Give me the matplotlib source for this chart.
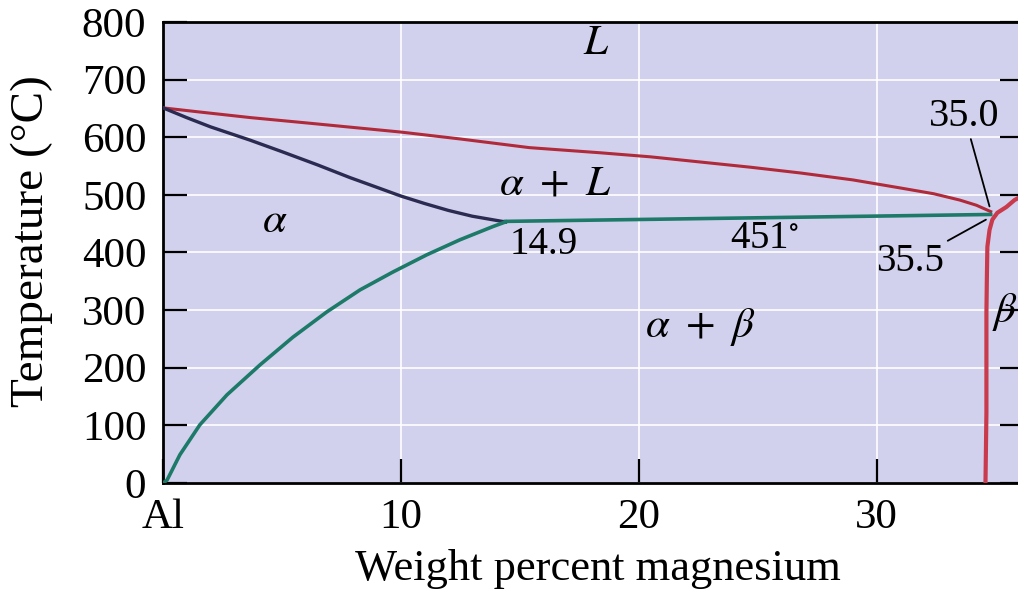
import matplotlib
matplotlib.use('Agg')
from matplotlib import pyplot as plt

plt.rcParams['font.family'] = ['Liberation Serif', 'DejaVu Serif']
plt.rcParams['mathtext.fontset'] = 'stix'

# phase boundaries (wt% Mg, deg C)
liq_x = [0, 1.5, 3.7, 6.0, 8.0, 10.0, 12.5, 15.4, 18.4, 20.5, 22.6, 24.7,
         26.8, 29.0, 31.0, 32.4, 33.5, 34.2, 34.8]
liq_t = [651, 644, 634, 625, 617, 609, 597, 582, 573, 566, 557, 548,
         538, 526, 512, 502, 491, 482, 471]

sol_x = [0, 1.0, 2.0, 3.66, 5.0, 6.5, 7.86, 9.0, 10.0, 11.0, 12.0, 13.0,
         14.4]
sol_t = [651, 634, 618, 595, 575, 552, 530, 513, 498, 485, 473, 463, 453]

solv_x = [0, 0.17, 0.71, 1.55, 2.69, 4.08, 5.46, 6.89, 8.28, 9.66, 11.09,
          12.48, 13.87, 14.4]
solv_t = [0, 5, 49, 101, 153, 205, 253, 297, 335, 366, 396, 422, 445, 453]

eut_x = [14.4, 34.8]
eut_t = [454, 466]

beta_x = [34.58, 34.60, 34.62, 34.62, 34.64, 34.66, 34.75, 34.87, 35.08,
          35.46, 35.8, 36.2]
beta_t = [0, 60, 122, 295, 360, 410, 439, 457, 469, 479, 491, 500]

xticks = [0, 10, 20, 30]
xtick_labels = ['Al', '10', '20', '30']
yticks = [0, 100, 200, 300, 400, 500, 600, 700, 800]

fig = plt.figure(figsize=(10.18, 6.0), dpi=100)
ax = fig.add_axes([163 / 1018, 117 / 600, (1024 - 163) / 1018, 461 / 600])
ax.set_facecolor('#d1d1ed')

ax.plot(liq_x, liq_t, color='#b02a3a', lw=2.2, zorder=3)
ax.plot(sol_x, sol_t, color='#2b2b52', lw=2.4, zorder=3)
ax.plot(solv_x, solv_t, color='#1d7a68', lw=2.6, zorder=3)
ax.plot(eut_x, eut_t, color='#1d7a68', lw=2.6, zorder=3)
ax.plot(beta_x, beta_t, color='#c83a4c', lw=3.0, zorder=4,
        solid_capstyle='round')

ax.set_xlim(0, 36.2)
ax.set_ylim(0, 800)
ax.set_xticks(xticks)
ax.set_xticklabels(xtick_labels)
ax.set_yticks(yticks)
ax.grid(True, color='white', lw=1.3, alpha=0.9)
ax.set_axisbelow(True)

ax.tick_params(direction='in', length=17, width=1.6, labelsize=31, pad=12,
               right=True, top=False)
ax.tick_params(axis='x', pad=11)
for s in ax.spines.values():
    s.set_linewidth(2)

fs = 31
ax.text(18.2, 762, r'$L$', fontsize=fs, ha='center', va='center')
ax.text(16.5, 518, r'$\alpha\ +\ L$', fontsize=fs, ha='center', va='center')
ax.text(4.7, 454, r'$\alpha$', fontsize=fs, ha='center', va='center')
ax.text(22.6, 270, r'$\alpha\ +\ \beta$', fontsize=fs, ha='center',
        va='center')
ax.text(35.4, 297, r'$\beta$', fontsize=fs, ha='center', va='center')
ax.text(16.0, 414, '14.9', fontsize=28, ha='center', va='center')
ax.text(25.3, 425, '451$^{\\circ}$', fontsize=28, ha='center', va='center')

ax.annotate('35.0', xy=(34.75, 480), xytext=(33.7, 636), fontsize=29,
            ha='center', va='center',
            arrowprops=dict(arrowstyle='-', color='black', lw=1.3,
                            shrinkA=1, shrinkB=0))
ax.annotate('35.5', xy=(34.6, 457), xytext=(31.4, 384), fontsize=28,
            ha='center', va='center',
            arrowprops=dict(arrowstyle='-', color='black', lw=1.3,
                            shrinkA=1, shrinkB=0))

fig.text(32 / 1018, 1 - 241 / 600, 'Temperature (°C)', rotation=90,
         fontsize=34, ha='center', va='center')
fig.text(598 / 1018, 1 - 569 / 600, 'Weight percent magnesium',
         fontsize=32, ha='center', va='center')

plt.savefig('out.png', dpi=100)
